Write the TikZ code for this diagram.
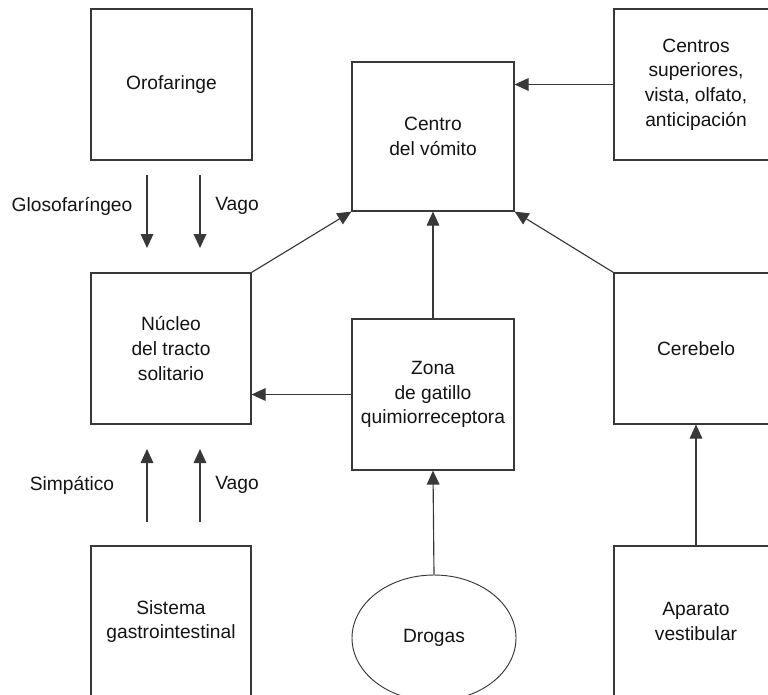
\documentclass[tikz,border=0pt]{standalone}
\usepackage{fontspec}
\setmainfont{Liberation Sans}
\usetikzlibrary{shapes.geometric,arrows.meta}
\definecolor{linegray}{gray}{0.22}
\definecolor{textgray}{gray}{0.08}
\tikzset{
  box/.style={draw=linegray, line width=0.85pt, inner sep=0pt, align=center,
    minimum width=#1, minimum height=113.25pt, text=textgray,
    font=\fontsize{14.4pt}{18.5pt}\selectfont},
  oval/.style={draw=linegray, line width=0.7pt, ellipse, inner sep=0pt,
    minimum width=123pt, minimum height=94.5pt, text=textgray,
    font=\fontsize{14.4pt}{18.5pt}\selectfont},
  lbl/.style={text=textgray, inner sep=0pt, font=\fontsize{14.4pt}{18.5pt}\selectfont},
  arr/.style={draw=linegray, line width=0.85pt, -{Triangle[length=10.5pt,width=9.5pt]}},
}
\begin{document}
\begin{tikzpicture}[x=0.75pt,y=-0.75pt]
\useasboundingbox (0,0) rectangle (768,694);
\clip (0,0) rectangle (768,694);
\fill[white] (0,0) rectangle (768,694);
% boxes
\node[box=120.75pt] (oro) at (171.5,84.5) {Orofaringe};
\node[box=120pt] (nts) at (171,348.5) {Núcleo\\del tracto\\solitario};
\node[box=121.5pt, minimum height=111.75pt] (cv) at (433,136.5) {Centro\\del vómito};
\node[box=123pt] (cs) at (696,84.5) {Centros\\superiores,\\vista, olfato,\\anticipación};
\node[box=121.5pt] (ztq) at (433,394.5) {Zona\\de gatillo\\quimiorreceptora};
\node[box=123pt] (cer) at (696,348.5) {Cerebelo};
\node[box=120pt] (sgi) at (171,621.5) {Sistema\\gastrointestinal};
\node[box=123pt] (av) at (696,621.5) {Aparato\\vestibular};
\node[oval] (drog) at (434,638) {Drogas};
% free-end coordinates
\coordinate (g1s) at (147,175); \coordinate (g1e) at (147,248);
\coordinate (v1s) at (200,175); \coordinate (v1e) at (200,248);
\coordinate (s2s) at (147,522); \coordinate (s2e) at (147,449);
\coordinate (v2s) at (200,522); \coordinate (v2e) at (200,449);
% labels
\node[lbl] (lglo) at (72,206) {Glosofaríngeo};
\node[lbl] (lva1) at (237,206) {Vago};
\node[lbl] (lsim) at (72,485) {Simpático};
\node[lbl] (lva2) at (237,485) {Vago};
% connectors
\draw[arr] (g1s) -- (g1e);
\draw[arr] (v1s) -- (v1e);
\draw[arr] (s2s) -- (s2e);
\draw[arr] (v2s) -- (v2e);
\draw[arr] (nts.north east) -- (cv.south west);
\draw[arr] (cer.north west) -- (cv.south east);
\draw[arr] (cs.west) -- (cs.west -| cv.east);
\draw[arr] (ztq.north) -- (cv.south);
\draw[arr] (ztq.west) -- (ztq.west -| nts.east);
\draw[arr] (drog.north) -- (ztq.south);
\draw[arr] (av.north) -- (cer.south);
\end{tikzpicture}
\end{document}
